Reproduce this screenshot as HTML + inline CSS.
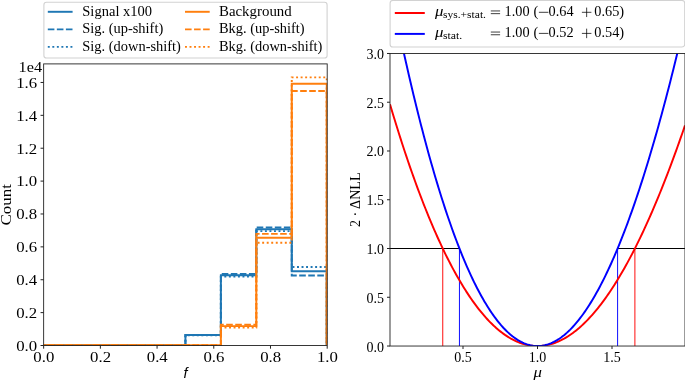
<!DOCTYPE html>
<html><head><meta charset="utf-8"><title>plot</title>
<style>
html,body{margin:0;padding:0;background:#fff;}
body{width:685px;height:381px;overflow:hidden;font-family:"Liberation Serif",serif;}
svg{display:block;will-change:transform}
</style></head><body>
<svg width="685" height="381" viewBox="0 0 685 381">
<rect width="685" height="381" fill="#fff"/>
<clipPath id="cl"><rect x="43.65" y="63.9" width="283.55" height="281.6"/></clipPath>
<g clip-path="url(#cl)" fill="none" stroke-linejoin="miter">
<path d="M43.65,345.25 L43.65,345.25 L185.43,345.25 L185.43,335.00 L220.87,335.00 L220.87,275.25 L256.31,275.25 L256.31,229.20 L291.76,229.20 L291.76,271.20 L326.75,271.20 L326.75,345.25" stroke="#1f77b4" stroke-width="1.95"/>
<path d="M43.65,345.25 L43.65,345.25 L185.43,345.25 L185.43,334.85 L220.87,334.85 L220.87,273.90 L256.31,273.90 L256.31,227.40 L291.76,227.40 L291.76,275.40 L326.75,275.40 L326.75,345.25" stroke="#1f77b4" stroke-width="1.95" stroke-dasharray="6.6,2.45" stroke-dashoffset="-5.1"/>
<path d="M43.65,345.25 L43.65,345.25 L185.43,345.25 L185.43,335.15 L220.87,335.15 L220.87,276.60 L256.31,276.60 L256.31,231.10 L291.76,231.10 L291.76,266.95 L326.75,266.95 L326.75,345.25" stroke="#1f77b4" stroke-width="1.95" stroke-dasharray="1.95,2.58" stroke-dashoffset="-0.2"/>
<path d="M43.65,345.25 L43.65,345.25 L185.43,345.25 L185.43,345.25 L220.87,345.25 L220.87,326.10 L256.31,326.10 L256.31,237.70 L291.76,237.70 L291.76,83.80 L326.75,83.80 L326.75,345.25" stroke="#ff7f0e" stroke-width="1.95"/>
<path d="M43.65,345.25 L43.65,345.25 L185.43,345.25 L185.43,345.25 L220.87,345.25 L220.87,324.70 L256.31,324.70 L256.31,233.85 L291.76,233.85 L291.76,90.95 L326.75,90.95 L326.75,345.25" stroke="#ff7f0e" stroke-width="1.95" stroke-dasharray="6.6,2.45" stroke-dashoffset="-4.0"/>
<path d="M43.65,345.25 L43.65,345.25 L185.43,345.25 L185.43,345.25 L220.87,345.25 L220.87,327.40 L256.31,327.40 L256.31,242.75 L291.76,242.75 L291.76,77.35 L326.75,77.35 L326.75,345.25" stroke="#ff7f0e" stroke-width="1.95" stroke-dasharray="1.95,2.58" stroke-dashoffset="0.6"/>
</g>
<rect x="43.65" y="63.9" width="283.55" height="281.6" fill="none" stroke="#222" stroke-width="0.9"/>
<line x1="43.65" y1="345.5" x2="43.65" y2="348.7" stroke="#222" stroke-width="1"/>
<text x="43.85" y="362.0" font-size="15.4" text-anchor="middle" font-family="Liberation Serif, serif" textLength="21" lengthAdjust="spacingAndGlyphs">0.0</text>
<line x1="100.36" y1="345.5" x2="100.36" y2="348.7" stroke="#222" stroke-width="1"/>
<text x="100.56" y="362.0" font-size="15.4" text-anchor="middle" font-family="Liberation Serif, serif" textLength="21" lengthAdjust="spacingAndGlyphs">0.2</text>
<line x1="157.07" y1="345.5" x2="157.07" y2="348.7" stroke="#222" stroke-width="1"/>
<text x="157.27" y="362.0" font-size="15.4" text-anchor="middle" font-family="Liberation Serif, serif" textLength="21" lengthAdjust="spacingAndGlyphs">0.4</text>
<line x1="213.78" y1="345.5" x2="213.78" y2="348.7" stroke="#222" stroke-width="1"/>
<text x="213.98" y="362.0" font-size="15.4" text-anchor="middle" font-family="Liberation Serif, serif" textLength="21" lengthAdjust="spacingAndGlyphs">0.6</text>
<line x1="270.49" y1="345.5" x2="270.49" y2="348.7" stroke="#222" stroke-width="1"/>
<text x="270.69" y="362.0" font-size="15.4" text-anchor="middle" font-family="Liberation Serif, serif" textLength="21" lengthAdjust="spacingAndGlyphs">0.8</text>
<line x1="327.20" y1="345.5" x2="327.20" y2="348.7" stroke="#222" stroke-width="1"/>
<text x="327.40" y="362.0" font-size="15.4" text-anchor="middle" font-family="Liberation Serif, serif" textLength="21" lengthAdjust="spacingAndGlyphs">1.0</text>
<line x1="40.55" y1="345.50" x2="43.65" y2="345.50" stroke="#222" stroke-width="1"/>
<text x="37.2" y="350.80" font-size="15.4" text-anchor="end" font-family="Liberation Serif, serif" textLength="21" lengthAdjust="spacingAndGlyphs">0.0</text>
<line x1="40.55" y1="312.62" x2="43.65" y2="312.62" stroke="#222" stroke-width="1"/>
<text x="37.2" y="317.92" font-size="15.4" text-anchor="end" font-family="Liberation Serif, serif" textLength="21" lengthAdjust="spacingAndGlyphs">0.2</text>
<line x1="40.55" y1="279.74" x2="43.65" y2="279.74" stroke="#222" stroke-width="1"/>
<text x="37.2" y="285.04" font-size="15.4" text-anchor="end" font-family="Liberation Serif, serif" textLength="21" lengthAdjust="spacingAndGlyphs">0.4</text>
<line x1="40.55" y1="246.86" x2="43.65" y2="246.86" stroke="#222" stroke-width="1"/>
<text x="37.2" y="252.16" font-size="15.4" text-anchor="end" font-family="Liberation Serif, serif" textLength="21" lengthAdjust="spacingAndGlyphs">0.6</text>
<line x1="40.55" y1="213.98" x2="43.65" y2="213.98" stroke="#222" stroke-width="1"/>
<text x="37.2" y="219.28" font-size="15.4" text-anchor="end" font-family="Liberation Serif, serif" textLength="21" lengthAdjust="spacingAndGlyphs">0.8</text>
<line x1="40.55" y1="181.10" x2="43.65" y2="181.10" stroke="#222" stroke-width="1"/>
<text x="37.2" y="186.40" font-size="15.4" text-anchor="end" font-family="Liberation Serif, serif" textLength="21" lengthAdjust="spacingAndGlyphs">1.0</text>
<line x1="40.55" y1="148.22" x2="43.65" y2="148.22" stroke="#222" stroke-width="1"/>
<text x="37.2" y="153.52" font-size="15.4" text-anchor="end" font-family="Liberation Serif, serif" textLength="21" lengthAdjust="spacingAndGlyphs">1.2</text>
<line x1="40.55" y1="115.34" x2="43.65" y2="115.34" stroke="#222" stroke-width="1"/>
<text x="37.2" y="120.64" font-size="15.4" text-anchor="end" font-family="Liberation Serif, serif" textLength="21" lengthAdjust="spacingAndGlyphs">1.4</text>
<line x1="40.55" y1="82.46" x2="43.65" y2="82.46" stroke="#222" stroke-width="1"/>
<text x="37.2" y="87.76" font-size="15.4" text-anchor="end" font-family="Liberation Serif, serif" textLength="21" lengthAdjust="spacingAndGlyphs">1.6</text>
<text x="42.1" y="72.0" font-size="15.4" text-anchor="end" font-family="Liberation Serif, serif" textLength="23.5" lengthAdjust="spacingAndGlyphs">1e4</text>
<text transform="translate(10.7,204.7) rotate(-90)" font-size="15.4" text-anchor="middle" font-family="Liberation Serif, serif" textLength="41.5" lengthAdjust="spacingAndGlyphs">Count</text>
<text x="185.6" y="378.0" font-size="14.5" text-anchor="middle" font-family="Liberation Sans, serif" font-style="italic">f</text>
<rect x="43.9" y="2.3" width="283.2" height="55.7" rx="2.6" fill="#fff" fill-opacity="0.8" stroke="#d2d2d2" stroke-width="1.1"/>
<line x1="47.8" y1="11.8" x2="72.6" y2="11.8" stroke="#1f77b4" stroke-width="1.95"/>
<line x1="185" y1="11.8" x2="209.7" y2="11.8" stroke="#ff7f0e" stroke-width="1.95"/>
<text x="82.3" y="15.8" font-size="15" text-anchor="start" font-family="Liberation Serif, serif" textLength="69.8" lengthAdjust="spacingAndGlyphs">Signal x100</text>
<text x="219.0" y="15.8" font-size="15" text-anchor="start" font-family="Liberation Serif, serif" textLength="72.7" lengthAdjust="spacingAndGlyphs">Background</text>
<line x1="47.8" y1="29.35" x2="72.6" y2="29.35" stroke="#1f77b4" stroke-width="1.95" stroke-dasharray="6.6,2.45"/>
<line x1="185" y1="29.35" x2="209.7" y2="29.35" stroke="#ff7f0e" stroke-width="1.95" stroke-dasharray="6.6,2.45"/>
<text x="82.3" y="33.35" font-size="15" text-anchor="start" font-family="Liberation Serif, serif" textLength="80.9" lengthAdjust="spacingAndGlyphs">Sig. (up-shift)</text>
<text x="219.0" y="33.35" font-size="15" text-anchor="start" font-family="Liberation Serif, serif" textLength="85.6" lengthAdjust="spacingAndGlyphs">Bkg. (up-shift)</text>
<line x1="47.8" y1="46.85" x2="72.6" y2="46.85" stroke="#1f77b4" stroke-width="1.95" stroke-dasharray="1.95,2.58"/>
<line x1="185" y1="46.85" x2="209.7" y2="46.85" stroke="#ff7f0e" stroke-width="1.95" stroke-dasharray="1.95,2.58"/>
<text x="82.3" y="50.8" font-size="15" text-anchor="start" font-family="Liberation Serif, serif" textLength="98.6" lengthAdjust="spacingAndGlyphs">Sig. (down-shift)</text>
<text x="219.0" y="50.8" font-size="15" text-anchor="start" font-family="Liberation Serif, serif" textLength="103.3" lengthAdjust="spacingAndGlyphs">Bkg. (down-shift)</text>
<clipPath id="cr"><rect x="390.0" y="53.47" width="295.0" height="292.55999999999995"/></clipPath>
<g clip-path="url(#cr)" fill="none">
<line x1="390.0" y1="248.51" x2="459.45" y2="248.51" stroke="#000" stroke-width="1.0"/>
<line x1="617.6" y1="248.51" x2="685.0" y2="248.51" stroke="#000" stroke-width="1.0"/>
<line x1="442.75" y1="248.51" x2="442.75" y2="346.03" stroke="#f00" stroke-width="1.0" stroke-opacity="0.95"/>
<line x1="634.9" y1="248.51" x2="634.9" y2="346.03" stroke="#f00" stroke-width="1.0" stroke-opacity="0.95"/>
<line x1="459.45" y1="248.51" x2="459.45" y2="346.03" stroke="#00f" stroke-width="1.0" stroke-opacity="0.95"/>
<line x1="617.6" y1="248.51" x2="617.6" y2="346.03" stroke="#00f" stroke-width="1.0" stroke-opacity="0.95"/>
<path d="M390.00,104.31 L391.48,109.27 L392.95,114.17 L394.43,119.02 L395.90,123.82 L397.38,128.56 L398.85,133.25 L400.33,137.88 L401.80,142.46 L403.27,146.99 L404.75,151.46 L406.23,155.88 L407.70,160.25 L409.18,164.56 L410.65,168.82 L412.12,173.02 L413.60,177.18 L415.07,181.28 L416.55,185.32 L418.02,189.32 L419.50,193.26 L420.98,197.15 L422.45,200.99 L423.93,204.77 L425.40,208.50 L426.88,212.18 L428.35,215.81 L429.82,219.39 L431.30,222.91 L432.77,226.38 L434.25,229.80 L435.73,233.17 L437.20,236.49 L438.68,239.75 L440.15,242.97 L441.62,246.13 L443.10,249.24 L444.57,252.30 L446.05,255.31 L447.52,258.27 L449.00,261.18 L450.48,264.03 L451.95,266.84 L453.43,269.60 L454.90,272.30 L456.38,274.96 L457.85,277.56 L459.32,280.11 L460.80,282.62 L462.27,285.07 L463.75,287.48 L465.23,289.83 L466.70,292.14 L468.18,294.39 L469.65,296.60 L471.12,298.75 L472.60,300.86 L474.07,302.92 L475.55,304.92 L477.02,306.88 L478.50,308.79 L479.97,310.66 L481.45,312.47 L482.93,314.23 L484.40,315.95 L485.88,317.61 L487.35,319.23 L488.82,320.80 L490.30,322.32 L491.77,323.79 L493.25,325.22 L494.72,326.60 L496.20,327.92 L497.67,329.20 L499.15,330.44 L500.62,331.62 L502.10,332.76 L503.57,333.85 L505.05,334.90 L506.52,335.89 L508.00,336.84 L509.47,337.74 L510.95,338.60 L512.42,339.40 L513.90,340.16 L515.38,340.88 L516.85,341.54 L518.32,342.16 L519.80,342.74 L521.27,343.27 L522.75,343.75 L524.23,344.18 L525.70,344.57 L527.17,344.91 L528.65,345.21 L530.12,345.46 L531.60,345.67 L533.08,345.83 L534.55,345.94 L536.02,346.01 L537.50,346.03 L538.98,346.01 L540.45,345.94 L541.92,345.82 L543.40,345.66 L544.88,345.46 L546.35,345.21 L547.82,344.91 L549.30,344.57 L550.77,344.18 L552.25,343.74 L553.73,343.26 L555.20,342.74 L556.67,342.17 L558.15,341.55 L559.62,340.89 L561.10,340.19 L562.57,339.44 L564.05,338.64 L565.52,337.80 L567.00,336.92 L568.48,335.99 L569.95,335.01 L571.42,333.99 L572.90,332.93 L574.38,331.82 L575.85,330.67 L577.32,329.47 L578.80,328.23 L580.27,326.94 L581.75,325.61 L583.22,324.23 L584.70,322.81 L586.17,321.35 L587.65,319.84 L589.12,318.29 L590.60,316.69 L592.08,315.05 L593.55,313.37 L595.02,311.64 L596.50,309.87 L597.97,308.05 L599.45,306.19 L600.92,304.29 L602.40,302.35 L603.88,300.36 L605.35,298.32 L606.82,296.24 L608.30,294.12 L609.77,291.96 L611.25,289.75 L612.72,287.50 L614.20,285.21 L615.67,282.87 L617.15,280.49 L618.62,278.07 L620.10,275.61 L621.58,273.10 L623.05,270.55 L624.52,267.95 L626.00,265.32 L627.48,262.64 L628.95,259.91 L630.42,257.15 L631.90,254.34 L633.38,251.49 L634.85,248.60 L636.32,245.67 L637.80,242.69 L639.27,239.67 L640.75,236.61 L642.23,233.51 L643.70,230.36 L645.17,227.17 L646.65,223.94 L648.12,220.67 L649.60,217.36 L651.07,214.00 L652.55,210.61 L654.02,207.17 L655.50,203.69 L656.98,200.16 L658.45,196.60 L659.92,193.00 L661.40,189.35 L662.87,185.66 L664.35,181.93 L665.82,178.16 L667.30,174.35 L668.77,170.49 L670.25,166.60 L671.72,162.66 L673.20,158.69 L674.67,154.67 L676.15,150.61 L677.62,146.51 L679.10,142.37 L680.57,138.19 L682.05,133.97 L683.52,129.71 L685.00,125.40" stroke="#f00" stroke-width="1.95"/>
<path d="M390.00,-13.15 L391.48,-5.77 L392.95,1.52 L394.43,8.74 L395.90,15.87 L397.38,22.92 L398.85,29.89 L400.33,36.78 L401.80,43.59 L403.27,50.33 L404.75,56.98 L406.23,63.55 L407.70,70.04 L409.18,76.45 L410.65,82.78 L412.12,89.04 L413.60,95.21 L415.07,101.31 L416.55,107.33 L418.02,113.26 L419.50,119.12 L420.98,124.90 L422.45,130.61 L423.93,136.23 L425.40,141.78 L426.88,147.25 L428.35,152.64 L429.82,157.96 L431.30,163.19 L432.77,168.35 L434.25,173.43 L435.73,178.44 L437.20,183.37 L438.68,188.22 L440.15,193.00 L441.62,197.70 L443.10,202.32 L444.57,206.87 L446.05,211.34 L447.52,215.73 L449.00,220.05 L450.48,224.30 L451.95,228.47 L453.43,232.56 L454.90,236.58 L456.38,240.52 L457.85,244.39 L459.32,248.18 L460.80,251.90 L462.27,255.55 L463.75,259.12 L465.23,262.62 L466.70,266.04 L468.18,269.39 L469.65,272.66 L471.12,275.86 L472.60,278.99 L474.07,282.05 L475.55,285.03 L477.02,287.94 L478.50,290.77 L479.97,293.54 L481.45,296.23 L482.93,298.84 L484.40,301.39 L485.88,303.86 L487.35,306.26 L488.82,308.59 L490.30,310.85 L491.77,313.04 L493.25,315.15 L494.72,317.20 L496.20,319.17 L497.67,321.07 L499.15,322.90 L500.62,324.66 L502.10,326.35 L503.57,327.96 L505.05,329.51 L506.52,330.99 L508.00,332.40 L509.47,333.73 L510.95,335.00 L512.42,336.20 L513.90,337.33 L515.38,338.39 L516.85,339.38 L518.32,340.30 L519.80,341.15 L521.27,341.93 L522.75,342.64 L524.23,343.29 L525.70,343.87 L527.17,344.37 L528.65,344.81 L530.12,345.19 L531.60,345.49 L533.08,345.73 L534.55,345.90 L536.02,346.00 L537.50,346.03 L538.98,346.00 L540.45,345.90 L541.92,345.73 L543.40,345.49 L544.88,345.19 L546.35,344.82 L547.82,344.38 L549.30,343.88 L550.77,343.31 L552.25,342.67 L553.73,341.97 L555.20,341.20 L556.67,340.36 L558.15,339.45 L559.62,338.48 L561.10,337.45 L562.57,336.34 L564.05,335.18 L565.52,333.94 L567.00,332.64 L568.48,331.27 L569.95,329.84 L571.42,328.34 L572.90,326.77 L574.38,325.14 L575.85,323.45 L577.32,321.69 L578.80,319.86 L580.27,317.97 L581.75,316.01 L583.22,313.98 L584.70,311.90 L586.17,309.74 L587.65,307.52 L589.12,305.24 L590.60,302.89 L592.08,300.48 L593.55,298.00 L595.02,295.46 L596.50,292.85 L597.97,290.18 L599.45,287.44 L600.92,284.64 L602.40,281.77 L603.88,278.84 L605.35,275.85 L606.82,272.79 L608.30,269.67 L609.77,266.48 L611.25,263.23 L612.72,259.92 L614.20,256.54 L615.67,253.10 L617.15,249.60 L618.62,246.03 L620.10,242.40 L621.58,238.70 L623.05,234.94 L624.52,231.12 L626.00,227.24 L627.48,223.29 L628.95,219.28 L630.42,215.20 L631.90,211.06 L633.38,206.86 L634.85,202.60 L636.32,198.28 L637.80,193.89 L639.27,189.44 L640.75,184.92 L642.23,180.35 L643.70,175.71 L645.17,171.01 L646.65,166.25 L648.12,161.42 L649.60,156.53 L651.07,151.59 L652.55,146.57 L654.02,141.50 L655.50,136.37 L656.98,131.17 L658.45,125.91 L659.92,120.59 L661.40,115.21 L662.87,109.77 L664.35,104.27 L665.82,98.70 L667.30,93.08 L668.77,87.39 L670.25,81.64 L671.72,75.83 L673.20,69.96 L674.67,64.03 L676.15,58.04 L677.62,51.98 L679.10,45.87 L680.57,39.70 L682.05,33.46 L683.52,27.17 L685.00,20.81" stroke="#00f" stroke-width="1.95"/>
</g>
<rect x="390.0" y="53.47" width="295.0" height="292.55999999999995" fill="none" stroke="#222" stroke-width="0.9"/>
<line x1="463.00" y1="346.03" x2="463.00" y2="349.03" stroke="#222" stroke-width="1"/>
<text x="463.00" y="362.2" font-size="14" text-anchor="middle" font-family="Liberation Serif, serif">0.5</text>
<line x1="537.50" y1="346.03" x2="537.50" y2="349.03" stroke="#222" stroke-width="1"/>
<text x="537.50" y="362.2" font-size="14" text-anchor="middle" font-family="Liberation Serif, serif">1.0</text>
<line x1="612.00" y1="346.03" x2="612.00" y2="349.03" stroke="#222" stroke-width="1"/>
<text x="612.00" y="362.2" font-size="14" text-anchor="middle" font-family="Liberation Serif, serif">1.5</text>
<line x1="387.0" y1="346.03" x2="390.0" y2="346.03" stroke="#222" stroke-width="1"/>
<text x="383.9" y="351.53" font-size="14" text-anchor="end" font-family="Liberation Serif, serif">0.0</text>
<line x1="387.0" y1="297.27" x2="390.0" y2="297.27" stroke="#222" stroke-width="1"/>
<text x="383.9" y="302.77" font-size="14" text-anchor="end" font-family="Liberation Serif, serif">0.5</text>
<line x1="387.0" y1="248.51" x2="390.0" y2="248.51" stroke="#222" stroke-width="1"/>
<text x="383.9" y="254.01" font-size="14" text-anchor="end" font-family="Liberation Serif, serif">1.0</text>
<line x1="387.0" y1="199.75" x2="390.0" y2="199.75" stroke="#222" stroke-width="1"/>
<text x="383.9" y="205.25" font-size="14" text-anchor="end" font-family="Liberation Serif, serif">1.5</text>
<line x1="387.0" y1="150.99" x2="390.0" y2="150.99" stroke="#222" stroke-width="1"/>
<text x="383.9" y="156.49" font-size="14" text-anchor="end" font-family="Liberation Serif, serif">2.0</text>
<line x1="387.0" y1="102.23" x2="390.0" y2="102.23" stroke="#222" stroke-width="1"/>
<text x="383.9" y="107.73" font-size="14" text-anchor="end" font-family="Liberation Serif, serif">2.5</text>
<line x1="387.0" y1="53.47" x2="390.0" y2="53.47" stroke="#222" stroke-width="1"/>
<text x="383.9" y="58.97" font-size="14" text-anchor="end" font-family="Liberation Serif, serif">3.0</text>
<text transform="translate(359.9,199.7) rotate(-90)" font-size="14" text-anchor="middle" font-family="Liberation Serif, serif" textLength="54.6" lengthAdjust="spacingAndGlyphs">2 · ΔNLL</text>
<text transform="translate(537.6,377.3) scale(1.2,1)" font-size="14" text-anchor="middle" font-style="italic" font-family="Liberation Serif, serif">μ</text>
<rect x="390.1" y="0.5" width="294.6" height="46.5" rx="2.8" fill="#fff" fill-opacity="0.8" stroke="#d2d2d2" stroke-width="1.1"/>
<line x1="394.8" y1="13.0" x2="424.8" y2="13.0" stroke="#f00" stroke-width="1.95"/>
<line x1="394.8" y1="33.9" x2="424.8" y2="33.9" stroke="#00f" stroke-width="1.95"/>
<text transform="translate(434.9,15.8) scale(1.2,1)" font-size="14" font-style="italic" font-family="Liberation Serif, serif">μ</text>
<text x="443.0" y="17.7" font-size="10" text-anchor="start" font-family="Liberation Serif, serif" textLength="43.0" lengthAdjust="spacingAndGlyphs">sys.+stat.</text>
<line x1="490.8" y1="10.95" x2="500.1" y2="10.95" stroke="#000" stroke-width="0.75"/>
<line x1="490.8" y1="13.65" x2="500.1" y2="13.65" stroke="#000" stroke-width="0.75"/>
<text x="504.6" y="15.8" font-size="14" text-anchor="start" font-family="Liberation Serif, serif" textLength="25.0" lengthAdjust="spacingAndGlyphs">1.00</text>
<text x="533.6" y="15.5" font-size="14.5" text-anchor="start" font-family="Liberation Serif, serif">(</text>
<line x1="538.9" y1="12.30" x2="548.4" y2="12.30" stroke="#000" stroke-width="0.75"/>
<text x="548.6" y="15.8" font-size="14" text-anchor="start" font-family="Liberation Serif, serif" textLength="25.0" lengthAdjust="spacingAndGlyphs">0.64</text>
<line x1="581.9" y1="12.30" x2="591.4" y2="12.30" stroke="#000" stroke-width="0.75"/>
<line x1="586.65" y1="7.55" x2="586.65" y2="17.05" stroke="#000" stroke-width="0.75"/>
<text x="594.3" y="15.8" font-size="14" text-anchor="start" font-family="Liberation Serif, serif" textLength="25.0" lengthAdjust="spacingAndGlyphs">0.65</text>
<text x="619.2" y="15.5" font-size="14.5" text-anchor="start" font-family="Liberation Serif, serif">)</text>
<text transform="translate(434.9,36.9) scale(1.2,1)" font-size="14" font-style="italic" font-family="Liberation Serif, serif">μ</text>
<text x="443.0" y="38.8" font-size="10" text-anchor="start" font-family="Liberation Serif, serif" textLength="19.2" lengthAdjust="spacingAndGlyphs">stat.</text>
<line x1="490.8" y1="32.05" x2="500.1" y2="32.05" stroke="#000" stroke-width="0.75"/>
<line x1="490.8" y1="34.75" x2="500.1" y2="34.75" stroke="#000" stroke-width="0.75"/>
<text x="504.6" y="36.9" font-size="14" text-anchor="start" font-family="Liberation Serif, serif" textLength="25.0" lengthAdjust="spacingAndGlyphs">1.00</text>
<text x="533.6" y="36.6" font-size="14.5" text-anchor="start" font-family="Liberation Serif, serif">(</text>
<line x1="538.9" y1="33.40" x2="548.4" y2="33.40" stroke="#000" stroke-width="0.75"/>
<text x="548.6" y="36.9" font-size="14" text-anchor="start" font-family="Liberation Serif, serif" textLength="25.0" lengthAdjust="spacingAndGlyphs">0.52</text>
<line x1="581.9" y1="33.40" x2="591.4" y2="33.40" stroke="#000" stroke-width="0.75"/>
<line x1="586.65" y1="28.65" x2="586.65" y2="38.15" stroke="#000" stroke-width="0.75"/>
<text x="594.3" y="36.9" font-size="14" text-anchor="start" font-family="Liberation Serif, serif" textLength="25.0" lengthAdjust="spacingAndGlyphs">0.54</text>
<text x="619.2" y="36.6" font-size="14.5" text-anchor="start" font-family="Liberation Serif, serif">)</text>
</svg>
</body></html>
